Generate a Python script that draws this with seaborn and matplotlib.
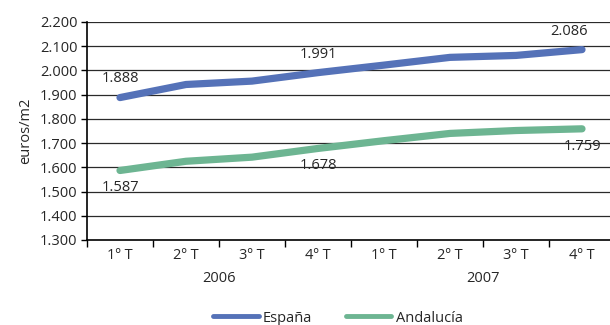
import numpy as np
import pandas as pd
import matplotlib
matplotlib.use('Agg')
import matplotlib.pyplot as plt
import seaborn as sns
from matplotlib.lines import Line2D

quarters = ['1º T', '2º T', '3º T', '4º T', '1º T', '2º T', '3º T', '4º T']
years = ['2006', '2007']
espana = [1888, 1942, 1956, 1991, 2022, 2054, 2062, 2086]
andalucia = [1587, 1625, 1642, 1678, 1710, 1740, 1752, 1759]
yticks = [1300, 1400, 1500, 1600, 1700, 1800, 1900, 2000, 2100, 2200]

sns.set_style('white')
plt.rcParams['font.family'] = ['Open Sans', 'DejaVu Sans']
FS = 10.5

df = pd.DataFrame({
    'pos': list(range(8)) * 2,
    'valor': espana + andalucia,
    'serie': ['España'] * 8 + ['Andalucía'] * 8,
})

fig = plt.figure(figsize=(6.1, 3.25), dpi=100)
ax = fig.add_axes([87 / 610, 85 / 325, 528 / 610, 218 / 325])

for y in yticks[1:]:
    ax.axhline(y, color='#2a2a2a', lw=0.9, zorder=0)

sns.lineplot(data=df, x='pos', y='valor', hue='serie',
             palette={'España': '#5572b8', 'Andalucía': '#6db592'},
             linewidth=5.2, solid_capstyle='round', ax=ax, legend=False)

fmt = lambda v: f'{v // 1000}.{v % 1000:03d}'

ax.set_xlim(-0.5, 7.5)
ax.set_ylim(1300, 2200)
ax.set_yticks(yticks)
ax.set_yticklabels([fmt(v) for v in yticks], fontsize=FS)
ax.set_xticks(np.arange(-0.5, 8, 1))
ax.set_xticklabels([])
ax.set_xticks(range(8), minor=True)
ax.set_xticklabels(quarters, minor=True, fontsize=FS)
ax.tick_params(axis='x', which='major', length=5, width=1, color='black', direction='out', bottom=True)
ax.tick_params(axis='x', which='minor', length=0, pad=6)
ax.tick_params(axis='y', length=4, width=1, color='black', direction='out', left=True, pad=3)
ax.set_xlabel('')
ax.set_ylabel('euros/m2', fontsize=FS, labelpad=5)

for s in ['top', 'right']:
    ax.spines[s].set_visible(False)
for s in ['left', 'bottom']:
    ax.spines[s].set_color('black')
    ax.spines[s].set_linewidth(1.2)

for i, yr in enumerate(years):
    ax.text(1.5 + 4 * i, -0.175, yr, transform=ax.get_xaxis_transform(),
            ha='center', va='center', fontsize=FS)

# label offsets (points) per annotated quarter
esp_dx = {0: 0, 3: 0, 7: -9}
for i in [0, 3, 7]:
    ax.annotate(fmt(espana[i]), (i, espana[i]), xytext=(esp_dx[i], 8), textcoords='offset points',
                ha='center', va='bottom', fontsize=FS)
    ax.annotate(fmt(andalucia[i]), (i, andalucia[i]), xytext=(0, -7), textcoords='offset points',
                ha='center', va='top', fontsize=FS)

handles = [Line2D([], [], color='#5572b8', lw=3.5),
           Line2D([], [], color='#6db592', lw=3.5)]
fig.legend(handles, ['España', 'Andalucía'], loc='center', bbox_to_anchor=(338 / 610, 1 - 318 / 325),
           ncol=2, frameon=False, fontsize=FS, handlelength=3.1, columnspacing=2.3, handletextpad=0.3)

fig.savefig('out.png', dpi=100)
